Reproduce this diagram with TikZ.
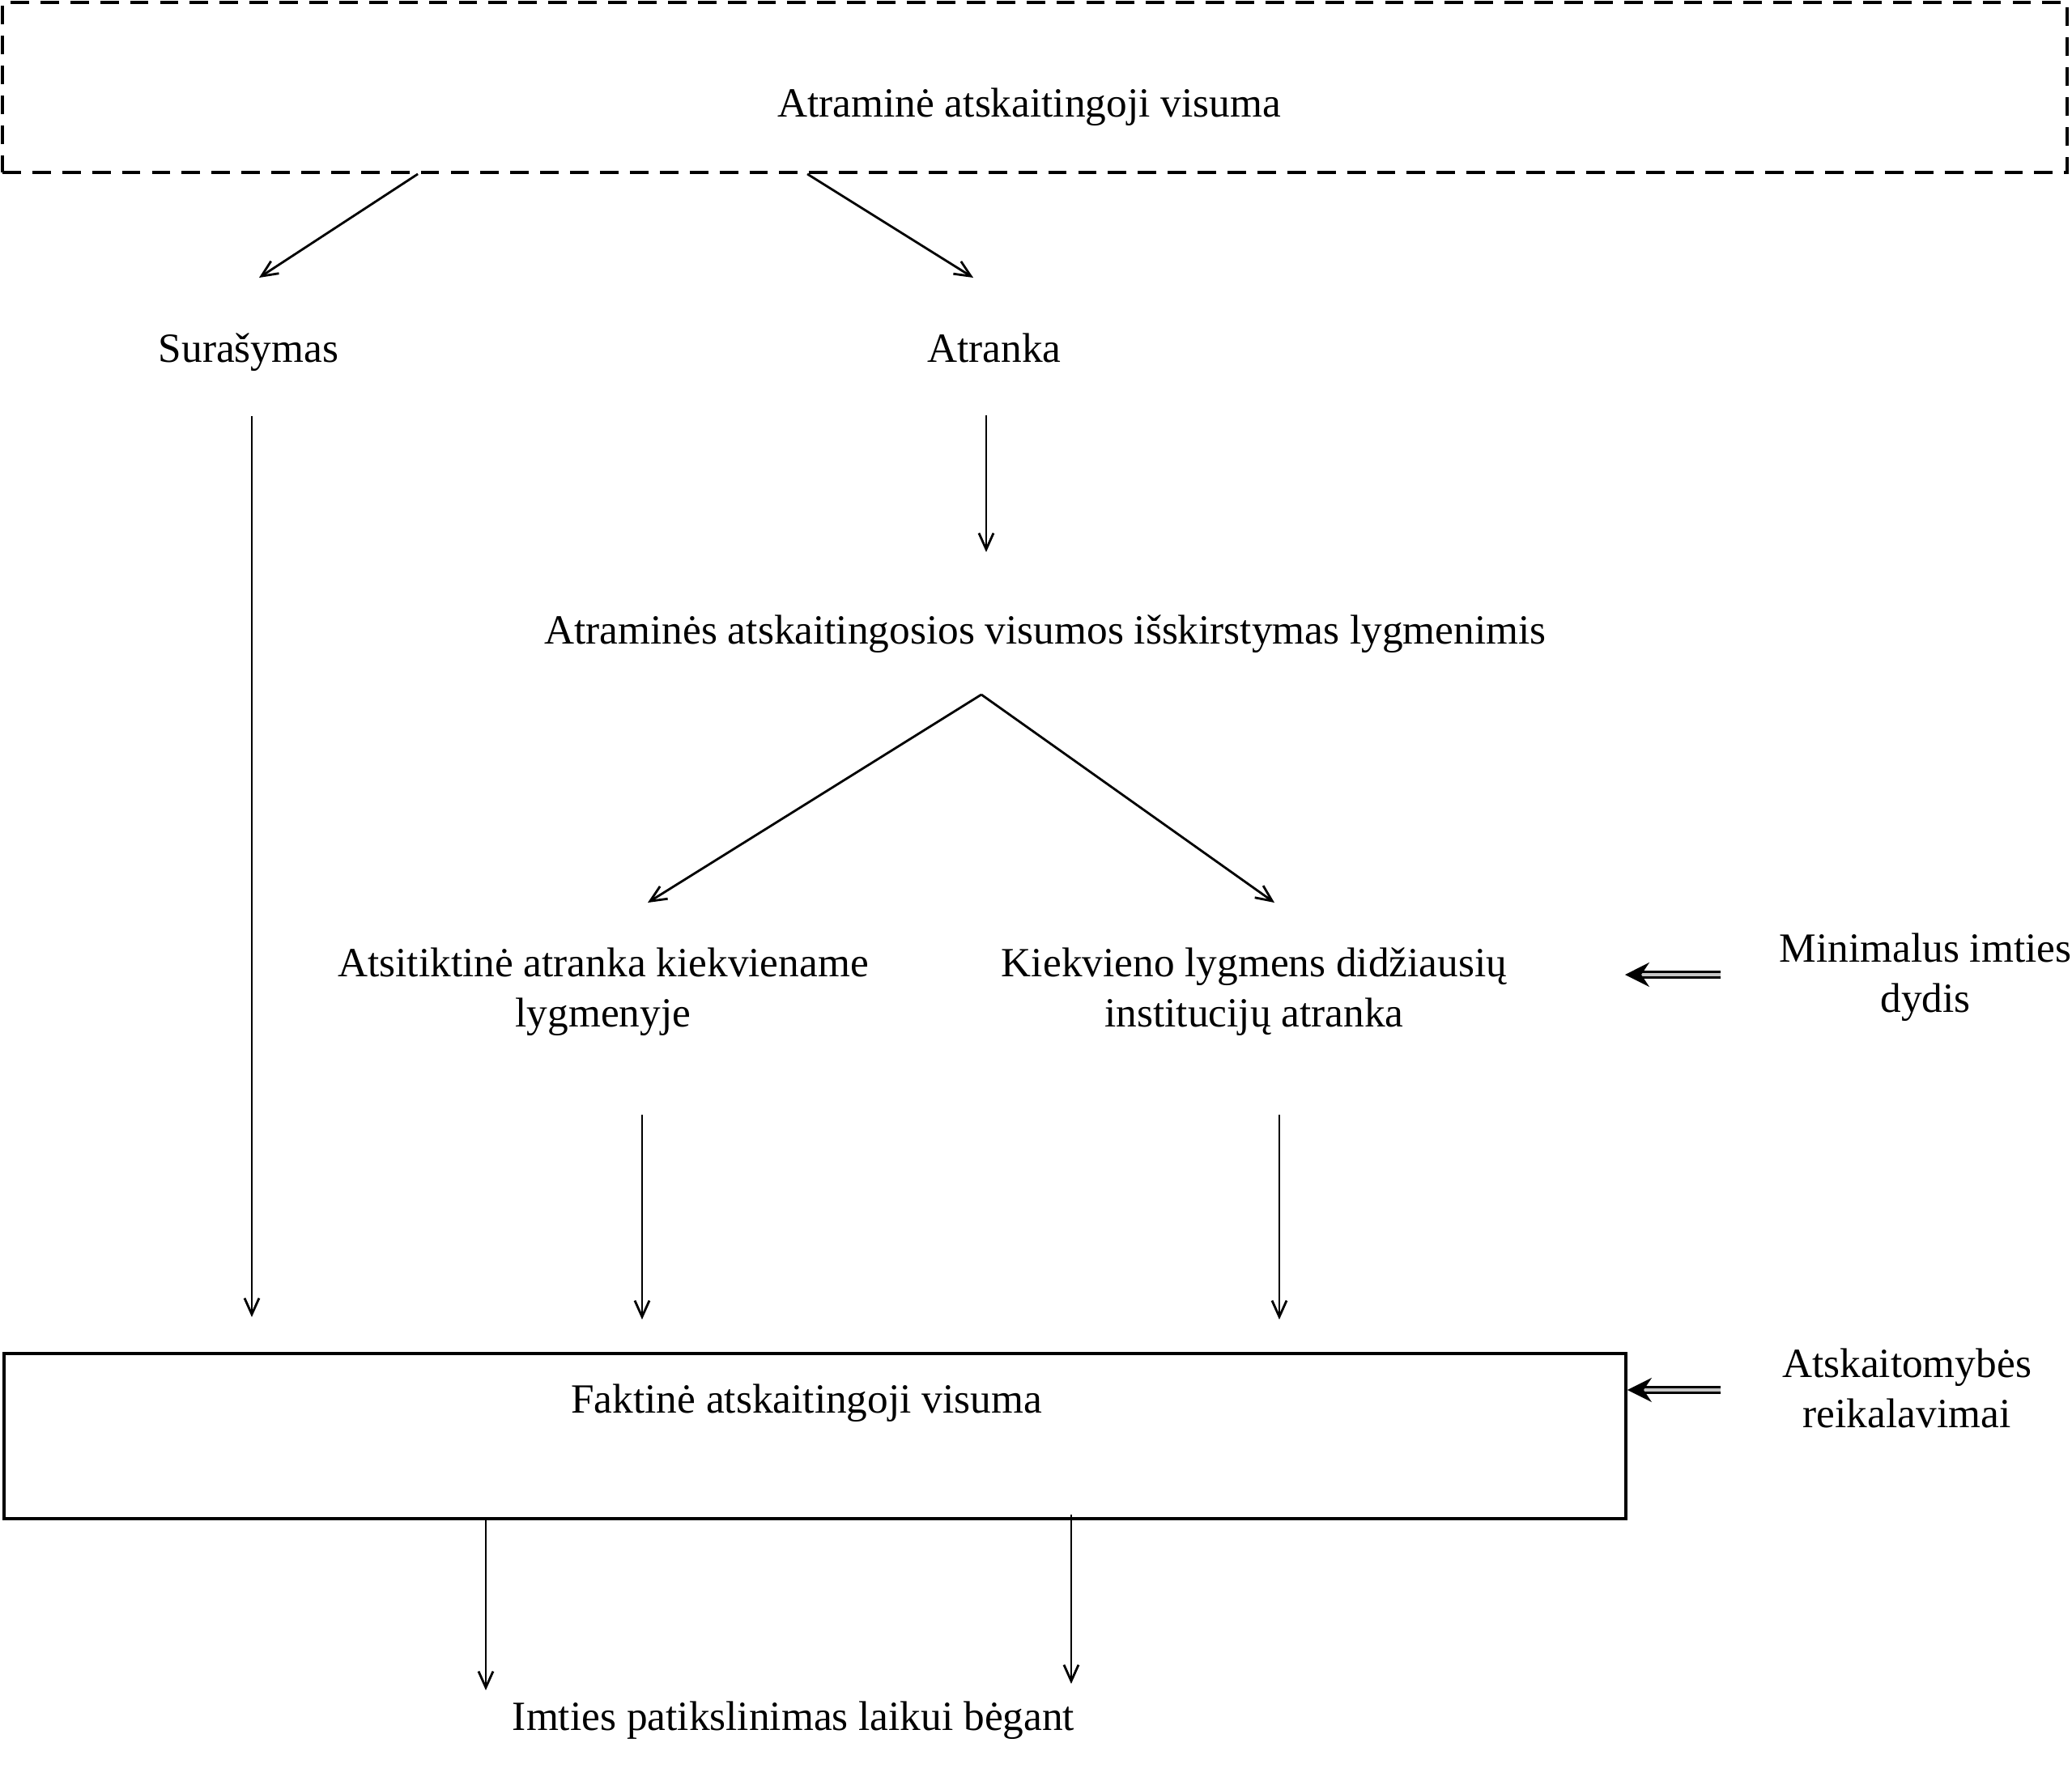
\documentclass[tikz,border=0pt]{standalone}
\usepackage{fontspec}
\setmainfont{Liberation Serif}
\usetikzlibrary{positioning,arrows.meta}

\begin{document}
\begin{tikzpicture}[
txt/.style={font=\fontsize{14.6}{17.6}\selectfont,align=center,inner sep=0pt},
arr/.style={line width=0.8pt,-{Straight Barb[length=2mm,width=1.8mm]}},
dblarr/.style={double=gray!45,double distance=1.3pt,line width=0.7pt,-{Stealth[length=3mm,width=3mm,inset=1mm]}},
framebox/.style={draw,line width=1.1pt,inner sep=0pt}
]
\useasboundingbox (0,0) rectangle (25.59,-22.05);
% boxes
\node[framebox,dash pattern=on 6.5pt off 4pt,minimum width=25.5cm,minimum height=2.1cm] (refbox) at (12.78,-1.08) {};
\node[framebox,minimum width=20.03cm,minimum height=2.04cm] (faktbox) at (10.065,-17.74) {};
% texts
\node[txt] (ref) at (12.71,-1.32) {Atraminė atskaitingoji visuma};
\node[txt] (sur) at (3.07,-4.35) {Surašymas};
\node[txt] (atr) at (12.28,-4.30) {Atranka};
\node[txt] (isk) at (12.91,-7.83) {Atraminės atskaitingosios visumos išskirstymas lygmenimis};
\node[txt] (atsit) at (7.45,-12.25) {Atsitiktinė atranka kiekviename\\lygmenyje};
\node[txt] (kiek) at (15.49,-12.25) {Kiekvieno lygmens didžiausių\\institucijų atranka};
\node[txt] (minim) at (23.78,-12.07) {Minimalus imties\\dydis};
\node[txt] (fakt) at (9.96,-17.33) {Faktinė atskaitingoji visuma};
\node[txt] (reik) at (23.55,-17.15) {Atskaitomybės\\reikalavimai};
\node[txt] (imt) at (9.80,-21.25) {Imties patikslinimas laikui bėgant};
% arrow ends
\coordinate (surin) at (3.20,-3.43);
\coordinate (atrin) at (12.02,-3.43);
\coordinate (surout) at (3.11,-5.14);
\coordinate (surend) at (3.11,-16.27);
\coordinate (atrout) at (12.18,-5.13);
\coordinate (iskin) at (12.18,-6.82);
\coordinate (iskout) at (12.12,-8.58);
\coordinate (atsitin) at (8.00,-11.15);
\coordinate (kiekin) at (15.74,-11.15);
\coordinate (atsitout) at (7.93,-13.77);
\coordinate (atsitend) at (7.93,-16.30);
\coordinate (kiekout) at (15.80,-13.77);
\coordinate (kiekend) at (15.80,-16.30);
\coordinate (minimout) at (21.25,-12.04);
\coordinate (minimend) at (20.07,-12.04);
\coordinate (reikout) at (21.25,-17.17);
\coordinate (imtin1) at (6.00,-20.88);
\coordinate (imtin2) at (13.23,-20.80);
% connectors
\draw[arr] ([xshift=5.15cm]refbox.south west) -- (surin);
\draw[arr] ([xshift=9.96cm]refbox.south west) -- (atrin);
\draw[arr] (surout) -- (surend);
\draw[arr] (atrout) -- (iskin);
\draw[arr] (iskout) -- (atsitin);
\draw[arr] (iskout) -- (kiekin);
\draw[arr] (atsitout) -- (atsitend);
\draw[arr] (kiekout) -- (kiekend);
\draw[dblarr] (minimout) -- (minimend);
\draw[dblarr] (reikout) -- (faktbox.east |- reikout);
\draw[arr] (faktbox.south -| imtin1) -- (imtin1);
\draw[arr] ([yshift=0.07cm]faktbox.south -| imtin2) -- (imtin2);
\end{tikzpicture}
\end{document}
